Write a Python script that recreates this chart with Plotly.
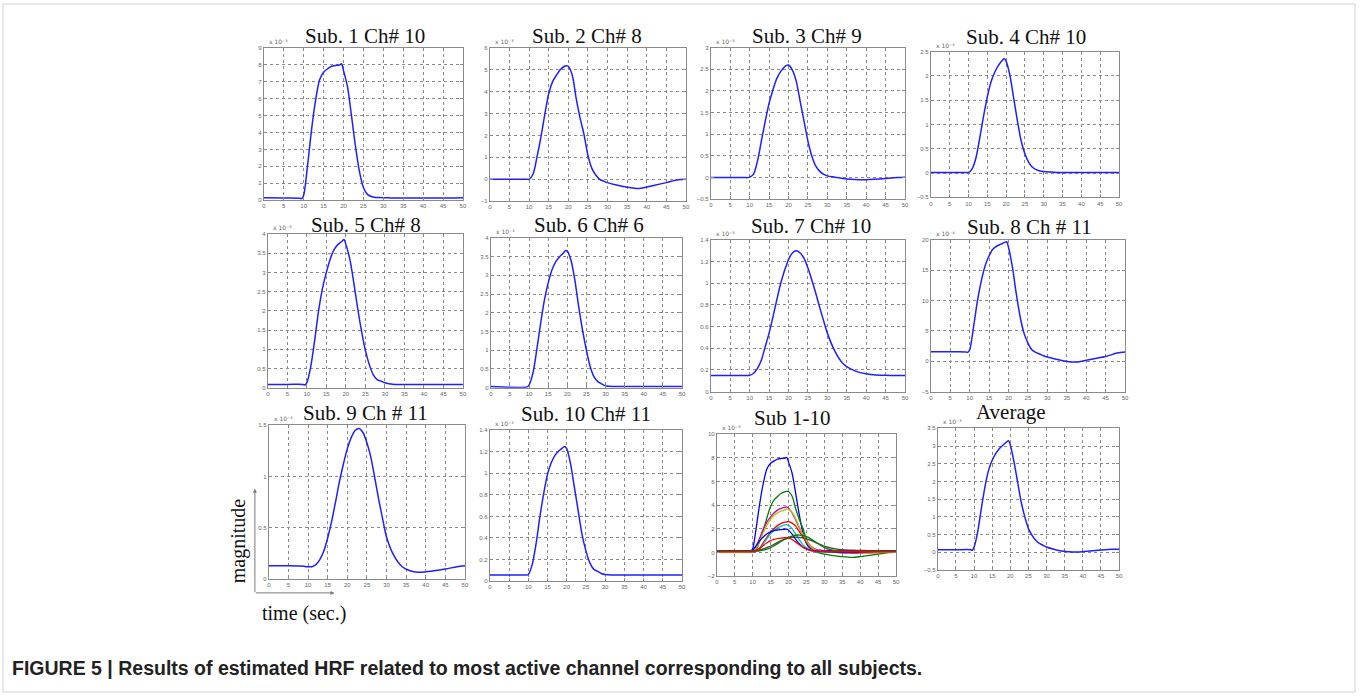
import plotly.graph_objects as go

W, H = 1360, 697

# ---------------- data ----------------
T = [0, 5, 9, 9.5, 10, 11, 12, 13, 14, 15, 16, 17, 18, 19, 19.5, 20, 21, 22, 23, 24,
     25, 26, 27, 28, 29, 30, 32, 34, 36, 38, 40, 42, 45, 48, 50]

sub1 = [0.15, 0.13, 0.12, 0.10, 0.30, 2.1, 4.2, 5.9, 7.1, 7.55, 7.75, 7.9, 7.95, 7.97, 8.05,
        7.65, 6.7, 5.0, 3.2, 1.7, 0.75, 0.35, 0.22, 0.17, 0.16, 0.15, 0.14, 0.13, 0.13, 0.13,
        0.13, 0.13, 0.13, 0.14, 0.15]
sub2 = [0, 0, 0, 0, 0.0, 0.23, 1.0, 1.9, 2.95, 3.9, 4.45, 4.75, 5.0, 5.15, 5.17,
        5.15, 4.75, 3.7, 2.8, 2.05, 1.1, 0.5, 0.2, 0.0, -0.08, -0.15, -0.25, -0.33, -0.38, -0.42,
        -0.35, -0.27, -0.15, -0.02, 0.0]
sub3 = [0, 0, 0, 0, 0.01, 0.08, 0.38, 0.84, 1.3, 1.72, 2.03, 2.29, 2.45, 2.56, 2.59,
        2.6, 2.48, 2.22, 1.76, 1.3, 0.84, 0.5, 0.27, 0.15, 0.08, 0.04, 0.01, -0.02, -0.04, -0.05,
        -0.05, -0.04, -0.02, 0.0, 0.01]
sub4 = [0.01, 0.01, 0.01, 0.01, 0.01, 0.09, 0.32, 0.73, 1.17, 1.57, 1.88, 2.08, 2.22, 2.32, 2.35,
        2.3, 2.01, 1.54, 1.07, 0.66, 0.39, 0.22, 0.12, 0.07, 0.04, 0.03, 0.02, 0.01, 0.01, 0.01,
        0.01, 0.01, 0.01, 0.01, 0.01]
sub5 = [0.085, 0.085, 0.085, 0.07, 0.13, 0.55, 1.23, 2.0, 2.58, 3.0, 3.35, 3.6, 3.73, 3.81, 3.86,
        3.73, 3.35, 2.75, 2.08, 1.48, 0.97, 0.6, 0.34, 0.21, 0.17, 0.13, 0.09, 0.085, 0.085, 0.085,
        0.085, 0.085, 0.085, 0.085, 0.085]
sub6 = [0.03, 0.01, 0.01, 0.02, 0.07, 0.38, 1.0, 1.7, 2.33, 2.8, 3.15, 3.37, 3.5, 3.6, 3.66,
        3.65, 3.39, 2.86, 2.15, 1.53, 1.0, 0.56, 0.29, 0.16, 0.1, 0.05, 0.03, 0.03, 0.03, 0.03,
        0.03, 0.03, 0.03, 0.03, 0.03]
sub7 = [0.148, 0.148, 0.148, 0.148, 0.15, 0.17, 0.215, 0.29, 0.415, 0.54, 0.69, 0.85, 1.0, 1.12, 1.17,
        1.22, 1.28, 1.3, 1.28, 1.23, 1.14, 1.03, 0.91, 0.78, 0.66, 0.54, 0.37, 0.26, 0.21, 0.18,
        0.165, 0.155, 0.15, 0.148, 0.148]
sub8 = [1.57, 1.57, 1.55, 1.47, 1.9, 5.7, 10.0, 13.3, 15.8, 17.4, 18.5, 19.0, 19.3, 19.6, 19.7,
        18.75, 15.5, 11.1, 7.3, 4.6, 3.0, 1.9, 1.47, 1.2, 0.92, 0.7, 0.38, 0.1, -0.1, -0.1,
        0.16, 0.43, 0.8, 1.35, 1.52]   # x 10^-4
sub9 = [0.13, 0.13, 0.125, 0.12, 0.12, 0.12, 0.14, 0.19, 0.27, 0.4, 0.56, 0.75, 0.95, 1.12, 1.2,
        1.27, 1.38, 1.45, 1.47, 1.43, 1.33, 1.19, 0.99, 0.78, 0.59, 0.41, 0.22, 0.12, 0.08, 0.065,
        0.07, 0.08, 0.097, 0.12, 0.13]
sub10 = [0.056, 0.056, 0.055, 0.056, 0.06, 0.15, 0.34, 0.59, 0.81, 0.99, 1.1, 1.17, 1.21, 1.24, 1.25,
         1.23, 1.09, 0.87, 0.65, 0.43, 0.28, 0.17, 0.11, 0.09, 0.07, 0.06, 0.056, 0.055, 0.055, 0.055,
         0.055, 0.055, 0.055, 0.056, 0.056]
average = [0.075, 0.075, 0.075, 0.06, 0.15, 0.58, 1.24, 1.85, 2.32, 2.6, 2.79, 2.93, 3.03, 3.12, 3.15,
           3.03, 2.56, 1.99, 1.42, 1.0, 0.67, 0.48, 0.34, 0.25, 0.2, 0.15, 0.085, 0.04, 0.02, 0.01,
           0.02, 0.04, 0.065, 0.085, 0.085]

titles = ["Sub. 1 Ch# 10", "Sub. 2 Ch# 8", "Sub. 3 Ch# 9", "Sub. 4 Ch# 10",
          "Sub. 5 Ch# 8", "Sub. 6 Ch# 6", "Sub. 7 Ch# 10", "Sub. 8 Ch # 11",
          "Sub. 9 Ch # 11", "Sub. 10 Ch# 11", "Sub 1-10", "Average"]
exponents = ["x 10⁻³", "x 10⁻³", "x 10⁻³", "x 10⁻³", "x 10⁻³", "x 10⁻³", "x 10⁻³", "x 10⁻⁴",
             "x 10⁻³", "x 10⁻³", "x 10⁻³", "x 10⁻³"]
y_ranges = [(0, 9), (-1, 6), (-0.5, 3), (-0.5, 2.5), (0, 4), (0, 4), (0, 1.4), (-5, 20),
            (0, 1.5), (0, 1.4), (-2, 10), (-0.5, 3.5)]
y_dticks = [1, 1, 0.5, 0.5, 0.5, 0.5, 0.2, 5, 0.5, 0.2, 2, 0.5]
x_ticks = [0, 5, 10, 15, 20, 25, 30, 35, 40, 45, 50]

# overlay panel: all subjects in units of 10^-3
overlay_series = [sub1, sub2, sub3, sub4, sub5, sub6, sub7, [v / 10 for v in sub8], sub9, sub10]
single_series = [sub1, sub2, sub3, sub4, sub5, sub6, sub7, sub8, sub9, sub10, None, average]

caption = "FIGURE 5 | Results of estimated HRF related to most active channel corresponding to all subjects."

# ---------------- layout (pixel boxes of each axes) ----------------
boxes = [(263, 463, 45, 199), (490, 687, 45, 200), (712, 907, 45, 198), (933, 1122, 49, 196),
         (267, 463, 233, 388), (491, 683, 237, 388), (712, 907, 239, 392), (933, 1128, 239, 392),
         (268, 465, 426, 581), (490, 683, 431, 583), (718, 898, 435, 578), (940, 1122, 429, 572)]
title_pos = [(365, 33), (588, 33), (809, 33), (1029, 34),
             (366, 224), (590, 224), (813, 225), (1032, 226),
             (365, 414), (587, 415), (794, 419), (1013, 413)]

BLUE = "#1f1fff"
MATLAB = ["#0000ff", "#008000", "#ff0000", "#00bfbf", "#bf00bf", "#bfbf00", "#404040",
          "#0000ff", "#008000", "#ff0000"]

fig = go.Figure()
layout = dict(width=W, height=H, autosize=False, margin=dict(l=0, r=0, t=0, b=0),
              paper_bgcolor="white", plot_bgcolor="white", showlegend=False)
annotations = []

def px(x):
    return x / W

def py(y):
    return 1 - y / H

for i, (x0, x1, y0, y1) in enumerate(boxes):
    n = i + 1
    xa = "xaxis" if n == 1 else f"xaxis{n}"
    ya = "yaxis" if n == 1 else f"yaxis{n}"
    xr = "x" if n == 1 else f"x{n}"
    yr = "y" if n == 1 else f"y{n}"
    common = dict(showline=True, linecolor="#8a8a8a", linewidth=1, mirror="ticks",
                  ticks="inside", ticklen=3, tickcolor="#8a8a8a",
                  showgrid=True, gridcolor="#8a8a8a", gridwidth=1, griddash="dot",
                  zeroline=False, tickfont=dict(family="Liberation Sans", size=6, color="#666666"))
    layout[xa] = dict(domain=[px(x0), px(x1)], anchor=yr, range=[0, 50], tickvals=x_ticks, **common)
    lo, hi = y_ranges[i]
    layout[ya] = dict(domain=[py(y1), py(y0)], anchor=xr, range=[lo, hi], tick0=lo,
                      dtick=y_dticks[i], **common)
    if i == 10:
        for s, c in zip(overlay_series, MATLAB):
            fig.add_trace(go.Scatter(x=T, y=s, mode="lines", xaxis=xr, yaxis=yr,
                                     line=dict(color=c, width=1.3, shape="spline", smoothing=0.8)))
    else:
        fig.add_trace(go.Scatter(x=T, y=single_series[i], mode="lines", xaxis=xr, yaxis=yr,
                                 line=dict(color=BLUE, width=1.5, shape="spline", smoothing=0.8)))
    tx, ty = title_pos[i]
    annotations.append(dict(text=titles[i], x=px(tx), y=py(ty), xref="paper", yref="paper",
                            xanchor="center", yanchor="middle", showarrow=False,
                            font=dict(family="Liberation Serif", size=21, color="#111111")))
    annotations.append(dict(text=exponents[i], x=px(x0 + 3), y=py(y0 - 1),
                            xref="paper", yref="paper", xanchor="left", yanchor="bottom",
                            showarrow=False,
                            font=dict(family="DejaVu Sans", size=6, color="#666666")))

# magnitude / time arrows and labels
annotations.append(dict(x=px(254), y=py(490), ax=0, ay=105, xref="paper", yref="paper",
                        axref="pixel", ayref="pixel", showarrow=True, arrowhead=2,
                        arrowsize=0.8, arrowwidth=1, arrowcolor="#777777", text=""))
annotations.append(dict(x=px(334), y=py(595), ax=-80, ay=0, xref="paper", yref="paper",
                        axref="pixel", ayref="pixel", showarrow=True, arrowhead=2,
                        arrowsize=0.8, arrowwidth=1, arrowcolor="#777777", text=""))
annotations.append(dict(text="magnitude", x=px(237), y=py(542), xref="paper", yref="paper",
                        xanchor="center", yanchor="middle", textangle=-90, showarrow=False,
                        font=dict(family="Liberation Serif", size=20, color="#111111")))
annotations.append(dict(text="time (sec.)", x=px(303), y=py(616), xref="paper", yref="paper",
                        xanchor="center", yanchor="middle", showarrow=False,
                        font=dict(family="Liberation Serif", size=20, color="#111111")))
annotations.append(dict(text=caption, x=px(8), y=py(671), xref="paper", yref="paper",
                        xanchor="left", yanchor="middle", showarrow=False,
                        font=dict(family="Liberation Sans", size=19.5, color="#222222",
                                  weight="bold")))

layout["annotations"] = annotations
layout["shapes"] = [dict(type="rect", xref="paper", yref="paper", x0=px(1), x1=px(1359),
                         y0=py(695), y1=py(1), line=dict(color="#d0d0d0", width=1))]
fig.update_layout(**layout)
fig.write_html("out.html", config={"displayModeBar": False},
               post_script="document.body.style.margin='0';document.body.style.overflow='hidden';")
